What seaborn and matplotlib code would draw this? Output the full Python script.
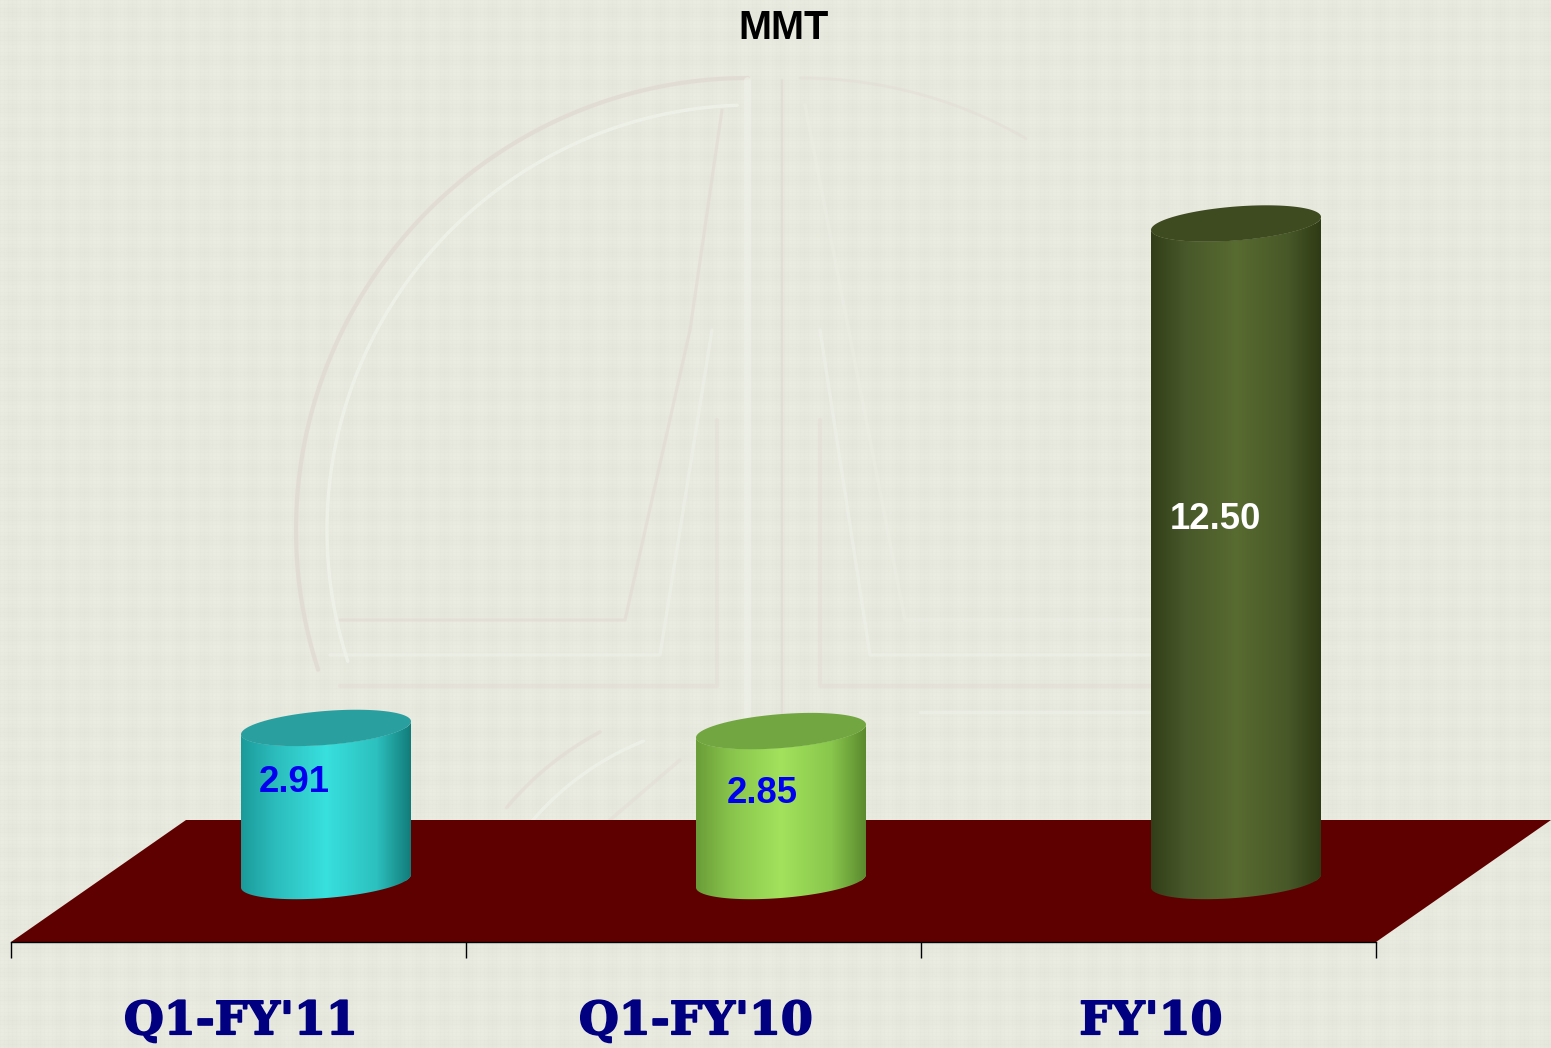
import numpy as np
import matplotlib
matplotlib.use('Agg')
import matplotlib.pyplot as plt
import matplotlib.patheffects as pe
from matplotlib.colors import LinearSegmentedColormap
from matplotlib.patches import Polygon
from matplotlib.transforms import Affine2D
from matplotlib.font_manager import FontProperties
import seaborn as sns

# data
categories = ["Q1-FY'11", "Q1-FY'10", "FY'10"]
values = [2.91, 2.85, 12.50]
value_labels = ['2.91', '2.85', '12.50']
label_colors = ['#0000f0', '#0000f0', '#ffffff']

# cylinder colours: edge / mid / highlight / right edge / cap
bar_colors = ['#2fc4c4', '#8ccf50', '#4c5d2a']
side_stops = [
    ['#1c9a9a', '#2cbcbc', '#38e0de', '#2cc0be', '#127c7a'],
    ['#6a9c38', '#88c44c', '#a2e25c', '#88c64c', '#5b8a2e'],
    ['#323e18', '#48582a', '#586b30', '#485828', '#2e3a14'],
]
cap_colors = ['#2a9f9f', '#72a640', '#3e4a1f']

W, H = 1551, 1048
BASE_Y = 881       # pixel row of value 0
PX_X = 455         # pixels for one category
PX_Y = 52.6        # pixels for one unit
FIRST_X = 326      # pixel column of first category

bar_width = 170 / PX_X
skew_x = 87.5 / PX_X
floor_y = 61 / PX_Y
cap_slope = 6.5 / PX_Y
cap_b = 17 / PX_Y

sns.set_theme(style='white')
plt.rcParams['font.family'] = ['Liberation Sans', 'DejaVu Sans']

fig = plt.figure(figsize=(W / 100, H / 100), dpi=100)
ax = fig.add_axes([0, 0, 1, 1])

# woven paper background
yy, xx = np.mgrid[0:H, 0:W]
bg = 232 + 1.2 * np.cos(2 * np.pi * xx / 24) + 1.2 * np.cos(2 * np.pi * yy / 24)
bg = bg - 1.8 * (xx % 4 == 0) - 1.8 * (yy % 4 == 0)
bg_rgb = np.dstack([bg, bg + 1, bg - 9]) / 255
ax.imshow(np.clip(bg_rgb, 0, 1), extent=(0, 1, 0, 1), transform=ax.transAxes,
          aspect='auto', zorder=0, interpolation='nearest')

# embossed logo behind the chart, in pixels of the page
page = Affine2D().scale(1 / W, -1 / H).translate(0, 1) + ax.transAxes
DARK = '#e0d8d0'
LIGHT = '#eff3ea'


def mark(xs, ys, color, lw=2.5, alpha=0.7):
    ax.plot(xs, ys, color=color, lw=lw, alpha=alpha, transform=page, zorder=0.5,
            solid_capstyle='round', scalex=False, scaley=False)


def arc(cx, cy, r, a0, a1):
    t = np.radians(np.linspace(a0, a1, 120))
    return cx + r * np.cos(t), cy - r * np.sin(t)


mark(*arc(748, 530, 452, 90, 198), DARK, 3, 0.7)
mark(*arc(752, 530, 425, 92, 198), LIGHT, 2.5, 0.8)
mark(*arc(800, 530, 452, 90, 60), DARK, 2, 0.35)
mark([722, 690, 625, 340], [110, 330, 620, 620], DARK, 2.2, 0.55)
mark([712, 660, 330], [330, 655, 655], LIGHT, 2.5, 0.55)
mark([717, 717, 340], [420, 686, 686], DARK, 3, 0.35)
mark([747, 747], [80, 820], LIGHT, 5, 0.6)
mark([782, 782], [80, 820], DARK, 1.5, 0.6)
mark([805, 905, 1150], [105, 620, 620], LIGHT, 2.5, 0.35)
mark([820, 870, 1150], [330, 655, 655], LIGHT, 2.5, 0.55)
mark([820, 820, 1150], [420, 686, 686], DARK, 3, 0.35)
mark([920, 1150], [712, 712], LIGHT, 2.5, 0.6)
mark(*arc(748, 1010, 315, 118, 140), DARK, 2.5, 0.5)
mark(*arc(752, 1010, 290, 112, 140), LIGHT, 2.5, 0.7)
mark([680, 610], [760, 820], DARK, 2.5, 0.35)

# bars
sns.barplot(x=categories, y=values, hue=categories, palette=bar_colors,
            width=bar_width, legend=False, ax=ax, zorder=2, linewidth=0, saturation=1)
bars = list(ax.patches)

# floor of the chart
floor_pts = [(-0.5 - skew_x, -floor_y), (2.5 - skew_x, -floor_y),
             (2.5 + skew_x, floor_y), (-0.5 + skew_x, floor_y)]
ax.add_patch(Polygon(floor_pts, closed=True, facecolor='#5e0000', edgecolor='none', zorder=1))


def ellipse(cx, a, y, t):
    return cx + a * np.cos(t), y + cap_b * np.sin(t) + cap_slope * np.cos(t)


for i, bar in enumerate(bars):
    a = bar.get_width() / 2
    cx = bar.get_x() + a
    h = bar.get_height()
    front = np.linspace(np.pi, 2 * np.pi, 80)
    x0, y0 = ellipse(cx, a, 0, front)
    x1, y1 = ellipse(cx, a, h, front[::-1])
    side = Polygon(np.column_stack([np.r_[x0, x1], np.r_[y0, y1]]), closed=True,
                   transform=ax.transData, facecolor='none', edgecolor='none')
    ax.add_patch(side)
    bar.set_clip_path(side)

    cmap = LinearSegmentedColormap.from_list(
        'side', list(zip([0, 0.2, 0.5, 0.8, 1], side_stops[i])))
    im = ax.imshow(np.linspace(0, 1, 256).reshape(1, -1), cmap=cmap, aspect='auto',
                   extent=(cx - a, cx + a, -cap_b * 2, h + cap_b * 2), zorder=3,
                   interpolation='bilinear')
    im.set_clip_path(side)

    t = np.linspace(0, 2 * np.pi, 160)
    xc, yc = ellipse(cx, a, h, t)
    ax.fill(xc, yc, color=cap_colors[i], lw=0, zorder=4)

# value labels sit by hand on the cylinders
label_dx = [-32 / PX_X, -19 / PX_X, -21 / PX_X]
label_y = [1.88, 1.66, 6.88]
for i, bar in enumerate(bars):
    ax.text(bar.get_x() + bar.get_width() / 2 + label_dx[i], label_y[i], value_labels[i],
            color=label_colors[i], fontsize=26.3, fontweight='bold', ha='center',
            va='center', zorder=5)

ax.set_xlim(-FIRST_X / PX_X, (W - FIRST_X) / PX_X)
ax.set_ylim(-(H - BASE_Y) / PX_Y, BASE_Y / PX_Y)

# category axis runs along the front edge of the floor
for s in ['top', 'left', 'right']:
    ax.spines[s].set_visible(False)
ax.spines['bottom'].set_position(('data', -floor_y))
ax.spines['bottom'].set_bounds(-0.5 - skew_x, 2.5 - skew_x)
ax.spines['bottom'].set_color('black')
ax.spines['bottom'].set_linewidth(1.0)
ax.spines['bottom'].set_zorder(6)
ax.set_yticks([])
pos = np.arange(len(categories))
ax.set_xticks(np.arange(len(categories) + 1) - 0.5 - skew_x, labels=[])
ax.set_xticks(pos - 85 / PX_X, labels=categories, minor=True)
ax.tick_params(axis='x', which='major', direction='out', length=11.5, width=1.0,
               color='black', bottom=True)
ax.tick_params(axis='x', which='minor', length=0, pad=40.5, bottom=True)
serif_bold = FontProperties(family='DejaVu Serif', weight='bold', size=33)
for lab in ax.get_xticklabels(minor=True):
    lab.set_fontproperties(serif_bold)
    lab.set_color('#000080')
    # the original lettering is heavier than the font's bold
    lab.set_path_effects([pe.withStroke(linewidth=1.2, foreground='#000080')])
ax.set_xlabel('')
ax.set_ylabel('')

ax.text(783 / W, 1 - 28 / H, 'MMT', transform=ax.transAxes, ha='center', va='center',
        fontsize=28.5, fontweight='bold', color='black', zorder=6)

fig.savefig('out.png', dpi=100)
